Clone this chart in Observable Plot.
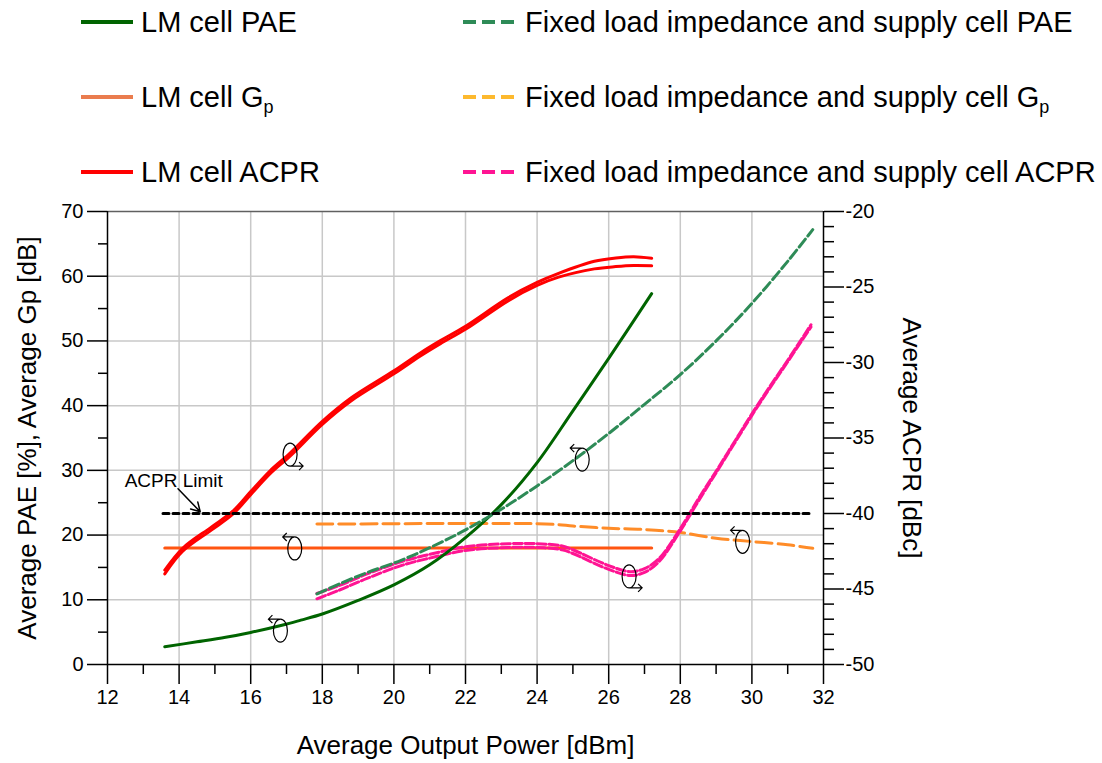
<!DOCTYPE html>
<html><head><meta charset="utf-8">
<script src="https://cdn.jsdelivr.net/npm/d3@7"></script>
<script src="https://cdn.jsdelivr.net/npm/@observablehq/plot@0.6"></script>
<style>
body{margin:0;background:#fff;font-family:"Liberation Sans",Arial,sans-serif;}
#legend{position:relative;width:1102px;height:185px;}
.item{position:absolute;height:30px;display:flex;align-items:center;font-size:29px;color:#000;white-space:nowrap;}
.item svg{display:block}
.item span{display:inline-block;line-height:30px}
sub{font-size:18px;vertical-align:-6px;line-height:0}
</style></head><body>
<div id="legend"></div>
<div id="chart"></div>
<script>
// ---------- data ----------
// LM cell PAE [%]
const lmPaeX = [13.6,14.5,15.3,16.0,16.9,17.4,18.0,19.0,20.0,21.0,22.0,23.0,24.0,25.0,26.0,27.2];
const lmPae  = [2.75,3.5,4.2,4.95,6.1,6.85,7.8,9.9,12.3,15.4,19.6,24.7,31.2,39.2,47.3,57.3];
// Fixed load impedance and supply cell PAE [%]
const fxPaeX = [17.85,18.5,19.25,20.2,21.1,22.0,23.0,24.0,25.0,26.0,27.0,28.0,29.0,30.0,31.0,31.7];
const fxPae  = [10.9,12.5,14.2,16.1,18.3,20.8,24.0,27.6,31.5,35.7,40.2,44.8,50.0,55.8,62.3,67.2];
// LM cell Gp [dB]
const lmGpX = [13.6,16,18,20,22,24,26,27.2];
const lmGp  = [18,18,18,18,18,18,18,18];
// Fixed cell Gp [dB]
const fxGpX = [17.85,20,22,24,24.6,25,26,27,28,29,30,31,31.7];
const fxGp  = [21.7,21.75,21.8,21.75,21.6,21.4,21.05,20.85,20.4,19.5,19.0,18.5,17.95];
// LM cell ACPR [dBc] (two traces)
const lmAcprX = [13.6,14.1,14.9,15.5,16.0,16.55,17.1,18.0,18.8,20.0,20.75,21.3,22.0,23.2,24.0,24.6,25.6,26.2,26.7,27.2];
const lmAcprA = [-43.75,-42.3,-40.9,-39.85,-38.55,-37.15,-36.0,-33.9,-32.35,-30.55,-29.35,-28.55,-27.6,-25.7,-24.7,-24.1,-23.3,-23.08,-23.0,-23.1];
const lmAcprB = [-44.0,-42.5,-41.1,-40.05,-38.75,-37.35,-36.2,-34.1,-32.55,-30.75,-29.55,-28.75,-27.8,-25.9,-24.9,-24.35,-23.8,-23.65,-23.58,-23.6];
// Fixed cell ACPR [dBc] (two traces)
const fxAcprX = [17.85,18.5,19.25,20.2,21.1,22.0,23.2,24.0,24.7,25.0,26.0,26.6,27.0,27.4,28.0,28.5,29.0,29.5,30.0,30.5,31.0,31.65];
const fxAcprA = [-45.3,-44.75,-44.0,-43.2,-42.65,-42.2,-42.0,-42.0,-42.15,-42.4,-43.45,-43.85,-43.65,-43.0,-41.0,-39.05,-37.2,-35.3,-33.4,-31.6,-29.85,-27.5];
const fxAcprB = [-45.65,-45.05,-44.3,-43.45,-42.9,-42.45,-42.25,-42.25,-42.4,-42.65,-43.7,-44.1,-43.9,-43.2,-41.15,-39.2,-37.3,-35.4,-33.5,-31.7,-29.95,-27.65];
// ACPR limit [dBc]
const limitX = [13.55,31.7];
const limitV = [-40,-40];
const limitText = "ACPR Limit";
const limitTextPos = {x: 13.85, y: 28.4};
const limitArrow = {x1: 13.97, y1: 27.15, x2: 14.59, y2: 23.6};
// axis-indicator annotations (left-axis units)
const annX   = [17.10, 17.23, 16.83, 25.26, 26.57, 29.74];
const annY   = [32.44, 17.93, 5.23, 31.66, 13.62, 18.96];
const annDir = ["right","left","left","left","right","left"];
// ticks
const xTicks = d3.range(12,33,2);
const xMinor = d3.range(13,32,2);
const yTicks = d3.range(0,71,10);
const yMinor = d3.range(5,70,10);
const acprTicks = d3.range(-50,-19,5);
const acprMinor = d3.range(-50,-19,1).filter(a => a % 5 !== 0);
// legend
const legendLabels = ["LM cell PAE","LM cell G<sub>p</sub>","LM cell ACPR",
  "Fixed load impedance and supply cell PAE","Fixed load impedance and supply cell G<sub>p</sub>","Fixed load impedance and supply cell ACPR"];
const legendColors = ["#006400","#ea7c4e","#ff0000","#2e8b57","#fdb92e","#ff1493"];
const legendDashed = [false,false,false,true,true,true];

// ---------- legend ----------
const leg = document.getElementById("legend");
const rowY = [22, 97, 172];
const colX = [81, 463];
const txtX = [141, 525];
legendLabels.forEach((lab, i) => {
  const col = i < 3 ? 0 : 1, row = i % 3;
  const sw = document.createElement("div");
  sw.className = "item";
  sw.style.left = colX[col] + "px";
  sw.style.top = (rowY[row] - 15) + "px";
  sw.innerHTML = `<svg width="52" height="8"><line x1="0" x2="52" y1="4" y2="4" stroke="${legendColors[i]}" stroke-width="4" ${legendDashed[i] ? 'stroke-dasharray="13,6"' : ''}/></svg>`;
  leg.appendChild(sw);
  const t = document.createElement("div");
  t.className = "item";
  t.style.left = txtX[col] + "px";
  t.style.top = (rowY[row] - 15) + "px";
  t.innerHTML = `<span>${lab}</span>`;
  leg.appendChild(t);
});

// ---------- chart ----------
const toL = a => (a + 50) * 70 / 30;
const fromL = v => v * 30 / 70 - 50;
const zip = (xs, ys, f = d => d) => xs.map((x, i) => ({x, y: f(ys[i])}));

function annSymbol(dir) {
  return {draw(ctx) {
    const rx = 7, ry = 11.5, k = 0.5523;
    ctx.moveTo(rx, 0);
    ctx.bezierCurveTo(rx, k*ry, k*rx, ry, 0, ry);
    ctx.bezierCurveTo(-k*rx, ry, -rx, k*ry, -rx, 0);
    ctx.bezierCurveTo(-rx, -k*ry, -k*rx, -ry, 0, -ry);
    ctx.bezierCurveTo(k*rx, -ry, rx, -k*ry, rx, 0);
    ctx.closePath();
    if (dir === "left") {
      ctx.moveTo(-1, -ry); ctx.lineTo(-12, -ry);
      ctx.moveTo(-8, -ry - 4); ctx.lineTo(-12, -ry); ctx.lineTo(-8, -ry + 4);
    } else {
      ctx.moveTo(1, ry); ctx.lineTo(13, ry);
      ctx.moveTo(9, ry - 4); ctx.lineTo(13, ry); ctx.lineTo(9, ry + 4);
    }
  }};
}
const ann = annX.map((x, i) => ({x, y: annY[i], dir: annDir[i]}));
const grid = {stroke: "#c8c8c8", strokeOpacity: 1, strokeWidth: 1.5};
const curve = "catmull-rom";

const chart = Plot.plot({
  width: 1102, height: 578,
  marginTop: 26, marginBottom: 99, marginLeft: 107, marginRight: 279,
  x: {domain: [12, 32]},
  y: {domain: [0, 70]},
  style: {fontFamily: '"Liberation Sans", Arial, sans-serif', fontSize: "20px", background: "#fff", overflow: "visible", color: "#000"},
  marks: [
    Plot.gridX({ticks: d3.range(14, 31, 2), ...grid}),
    Plot.gridY({ticks: d3.range(10, 61, 10), ...grid}),
    Plot.ruleY([70], {stroke: "#606060", strokeWidth: 1.5}),
    Plot.ruleY([0], {stroke: "#000", strokeWidth: 1.5}),
    Plot.ruleX([12], {stroke: "#000", strokeWidth: 1.5}),
    Plot.ruleX([32], {stroke: "#000", strokeWidth: 1.5}),
    Plot.axisX({ticks: xTicks, tickSize: 20, tickPadding: 5, label: null, fontSize: 20, strokeWidth: 1.5}),
    Plot.axisX({ticks: xMinor, tickSize: 10, tickFormat: () => "", label: null, strokeWidth: 1.5}),
    Plot.axisY({ticks: yTicks, tickSize: 20, tickPadding: 4, label: null, fontSize: 20, strokeWidth: 1.5}),
    Plot.axisY({ticks: yMinor, tickSize: 9, tickFormat: () => "", label: null, strokeWidth: 1.5}),
    Plot.axisY({anchor: "right", ticks: acprTicks.map(toL), tickFormat: v => String(Math.round(fromL(v))), tickSize: 20, tickPadding: 2, label: null, fontSize: 20, strokeWidth: 1.5}),
    Plot.axisY({anchor: "right", ticks: acprMinor.map(toL), tickSize: 10, tickFormat: () => "", label: null, strokeWidth: 1.5}),
    // series
    Plot.line(zip(lmGpX, lmGp), {x: "x", y: "y", stroke: "#ff5511", strokeWidth: 3}),
    Plot.line(zip(fxGpX, fxGp), {x: "x", y: "y", stroke: "#ff8c28", strokeWidth: 3, strokeDasharray: "16,6", curve}),
    Plot.line(zip(lmAcprX, lmAcprB, toL), {x: "x", y: "y", stroke: "#ff0000", strokeWidth: 3, curve}),
    Plot.line(zip(lmAcprX, lmAcprA, toL), {x: "x", y: "y", stroke: "#ff0000", strokeWidth: 3, curve}),
    Plot.line(zip(fxAcprX, fxAcprB, toL), {x: "x", y: "y", stroke: "#ff1493", strokeWidth: 3, strokeDasharray: "9,3", curve}),
    Plot.line(zip(fxAcprX, fxAcprA, toL), {x: "x", y: "y", stroke: "#ff1493", strokeWidth: 3, strokeDasharray: "9,3", curve}),
    Plot.line(zip(lmPaeX, lmPae), {x: "x", y: "y", stroke: "#006400", strokeWidth: 3, curve}),
    Plot.line(zip(fxPaeX, fxPae), {x: "x", y: "y", stroke: "#2e8b57", strokeWidth: 3, strokeDasharray: "10,4", curve}),
    Plot.line(zip(limitX, limitV, toL), {x: "x", y: "y", stroke: "#000", strokeWidth: 3, strokeDasharray: "6,4"}),
    // annotations
    Plot.text([limitText], {x: limitTextPos.x, y: limitTextPos.y, fontSize: 19, fill: "#000"}),
    Plot.arrow([0], {x1: limitArrow.x1, y1: limitArrow.y1, x2: limitArrow.x2, y2: limitArrow.y2, stroke: "#000", strokeWidth: 1.5, headLength: 10}),
    Plot.dot(ann.filter(d => d.dir === "left"), {x: "x", y: "y", symbol: annSymbol("left"), stroke: "#000", fill: "none", strokeWidth: 1.2}),
    Plot.dot(ann.filter(d => d.dir === "right"), {x: "x", y: "y", symbol: annSymbol("right"), stroke: "#000", fill: "none", strokeWidth: 1.2}),
    // axis titles
    Plot.text(["Average Output Power [dBm]"], {frameAnchor: "bottom", dy: 81, lineAnchor: "middle", textAnchor: "middle", fontSize: 26, fill: "#000"}),
    Plot.text(["Average PAE [%], Average Gp [dB]"], {frameAnchor: "left", dx: -80, rotate: -90, textAnchor: "middle", lineAnchor: "middle", fontSize: 26, fill: "#000"}),
    Plot.text(["Average ACPR [dBc]"], {frameAnchor: "right", dx: 88, rotate: 90, textAnchor: "middle", lineAnchor: "middle", fontSize: 26, fill: "#000"})
  ]
});
document.getElementById("chart").appendChild(chart);
</script>
</body></html>
